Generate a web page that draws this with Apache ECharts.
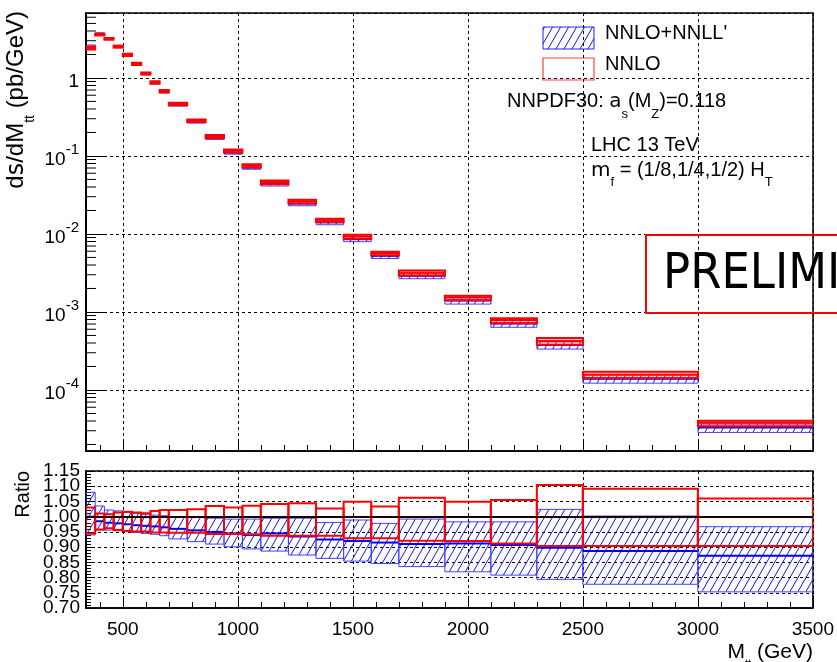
<!DOCTYPE html>
<html>
<head>
<meta charset="utf-8">
<script src="https://cdn.jsdelivr.net/npm/echarts@6/dist/echarts.min.js"></script>
<style>
html,body{margin:0;padding:0;background:#fff;}
#chart{width:837px;height:662px;}
</style>
</head>
<body>
<div id="chart"></div>
<script>
// ---------------- data ----------------
const binEdges = [340,380,420,460,500,540,580,620,660,700,780,860,940,1020,1100,1220,1340,1460,1580,1700,1900,2100,2300,2500,3000,3500];
// NNLO central prediction dsigma/dMtt (pb/GeV)
const nnloCentral = [2.45,3.66,3.22,2.56,2.01,1.54,1.16,0.889,0.686,0.470,0.287,0.179,0.117,0.0755,0.0464,0.0263,0.0152,0.00931,0.00573,0.00319,0.00154,0.000787,0.000421,0.000157,0.0000379];
// NNLO scale band, ratio to NNLO central
const nnloRatioLo = [0.945,0.958,0.962,0.956,0.953,0.951,0.951,0.948,0.948,0.947,0.947,0.943,0.943,0.942,0.9375,0.9375,0.9375,0.929,0.929,0.921,0.920,0.912,0.904,0.904,0.904];
const nnloRatioHi = [1.030,1.010,1.008,1.014,1.016,1.014,1.011,1.019,1.022,1.022,1.024,1.035,1.030,1.036,1.042,1.044,1.027,1.049,1.033,1.062,1.049,1.055,1.104,1.092,1.060];
// NNLO+NNLL' band, ratio to NNLO central
const resumRatioLo = [0.940,0.956,0.956,0.954,0.951,0.948,0.945,0.942,0.9375,0.927,0.918,0.910,0.901,0.894,0.887,0.874,0.863,0.854,0.846,0.836,0.819,0.808,0.794,0.778,0.753];
const resumRatioMid = [1.000,0.985,0.980,0.978,0.975,0.972,0.970,0.968,0.965,0.960,0.955,0.950,0.945,0.940,0.945,0.935,0.925,0.920,0.915,0.910,0.912,0.907,0.898,0.887,0.872];
const resumRatioHi = [1.080,1.035,1.022,1.019,1.014,1.011,1.008,1.005,1.003,1.000,0.997,0.995,0.992,0.992,0.995,0.995,0.981,0.989,0.978,0.992,0.983,0.983,1.024,1.002,0.967];
// axes
const xMin = 340, xMax = 3500;
const yTopMin = 1.65e-5, yTopMax = 6.8;
const ratioMin = 0.70, ratioMax = 1.15, ratioStep = 0.05;
const logDecades = [-5,-4,-3,-2,-1,0];
const logMantissas = [2,3,4,5,6,7,8,9];
const legendLabels = ["NNLO+NNLL'", "NNLO"];

// ---------------- helpers ----------------
const FONT = "'Liberation Sans', Arial, Helvetica, sans-serif";
function makeHatch() {
  const c = document.createElement('canvas');
  c.width = 8; c.height = 14;
  const g = c.getContext('2d');
  g.strokeStyle = '#1010ff'; g.lineWidth = 1;
  g.beginPath();
  g.moveTo(0, 14); g.lineTo(8, 0);
  g.moveTo(-8, 14); g.lineTo(0, 0);
  g.moveTo(8, 14); g.lineTo(16, 0);
  g.stroke();
  return c;
}
const hatchCanvas = makeHatch();
const hatch = () => ({ image: hatchCanvas, repeat: 'repeat' });

const topRows = [], ratioRows = [];
for (let i = 0; i < nnloCentral.length; i++) {
  const c = nnloCentral[i];
  topRows.push([binEdges[i], binEdges[i+1], c*resumRatioLo[i], c*resumRatioMid[i], c*resumRatioHi[i], c*nnloRatioLo[i], c, c*nnloRatioHi[i]]);
  ratioRows.push([binEdges[i], binEdges[i+1], resumRatioLo[i], resumRatioMid[i], resumRatioHi[i], nnloRatioLo[i], 1, nnloRatioHi[i]]);
}
const minorVals = [];
logDecades.forEach(d => logMantissas.forEach(m => { const v = m*Math.pow(10,d); if (v > yTopMin && v < yTopMax) minorVals.push([xMin, v]); }));

function boxItem(redFill, drawRedMid) {
  return function(params, api) {
    const x0 = api.value(0), x1 = api.value(1);
    const bl = api.coord([x0, api.value(2)]), bm = api.coord([x0, api.value(3)]), bh = api.coord([x1, api.value(4)]);
    const bm1 = api.coord([x1, api.value(3)]);
    const rl = api.coord([x0, api.value(5)]), rm = api.coord([x0, api.value(6)]), rh = api.coord([x1, api.value(7)]);
    const children = [
      {type:'rect', shape:{x:bl[0], y:bh[1], width:bh[0]-bl[0], height:bl[1]-bh[1]},
       style:{fill:hatch(), stroke:'#4040ff', lineWidth:1}},
      {type:'line', shape:{x1:bm[0], y1:bm[1], x2:bm1[0], y2:bm1[1]}, style:{stroke:'#0000ff', lineWidth:2}},
      {type:'rect', shape:{x:rl[0], y:rh[1], width:rh[0]-rl[0], height:rl[1]-rh[1]},
       style:{fill:redFill, stroke:'#ff0000', lineWidth:2}}
    ];
    if (drawRedMid) children.push({type:'line', shape:{x1:rm[0], y1:rm[1], x2:rh[0], y2:rm[1]}, style:{stroke:'#ff0000', lineWidth:2}});
    return {type:'group', children};
  };
}

const gridLine = {show:true, lineStyle:{type:[3,3], color:'#000', width:1}};
function xAxisCfg(gi, labels) {
  return {
    gridIndex: gi, type:'value', min:xMin, max:xMax,
    axisLine:{show:true, onZero:false, lineStyle:{color:'#000', width:1.5}},
    axisTick:{show:true, inside:true, length:12, lineStyle:{color:'#000', width:1}},
    minorTick:{show:true, splitNumber:5, length:6, lineStyle:{color:'#000', width:1}},
    axisLabel:{show:labels, margin:12, fontSize:19, fontFamily:FONT, color:'#000',
      formatter: v => (v % 500 === 0 ? String(v) : '')},
    splitLine: gridLine, minorSplitLine:{show:false}
  };
}

const logLabel = function(v) {
  const e = Math.log10(v), r = Math.round(e);
  if (Math.abs(e - r) > 1e-6) return '';
  if (r === 0) return '{b|1}';
  return '{b|10}{p|-' + Math.abs(r) + '}';
};
const isEnd = v => Math.abs(v - ratioMin) < 1e-6 || Math.abs(v - ratioMax) < 1e-6;

const rich = (o) => Object.assign({fontFamily:FONT, color:'#000'}, o);
function annot(x, y, text, richStyles, extra) {
  return Object.assign({type:'text', x:x, y:y, silent:true, style:{text:text, align:'left', verticalAlign:'top', rich:richStyles}}, extra||{});
}
const annRich = {
  n: rich({fontSize:20, lineHeight:20, padding:[0,0,9,0]}),
  g: rich({fontSize:20, lineHeight:20, padding:[0,0,9,0], fontFamily:"'DejaVu Sans', sans-serif", color:'#333'}),
  sub: rich({fontSize:13, lineHeight:13, padding:[16,0,0,0]})
};

const option = {
  animation:false,
  grid:[
    {left:86, top:13, width:727, height:438, show:true, borderColor:'#000', borderWidth:1.5},
    {left:86, top:471, width:727, height:137, show:true, borderColor:'#000', borderWidth:1.5}
  ],
  xAxis:[xAxisCfg(0,false), xAxisCfg(1,true)],
  yAxis:[
    {gridIndex:0, type:'log', logBase:10, min:yTopMin, max:yTopMax,
     axisLine:{show:true, lineStyle:{color:'#000', width:2}},
     axisTick:{show:true, inside:true, length:20, lineStyle:{color:'#000'}},
     axisLabel:{show:true, margin:7, formatter:logLabel, rich:{
       b: rich({fontSize:19, lineHeight:19, padding:[8,0,0,0]}),
       p: rich({fontSize:15, lineHeight:15, padding:[0,0,12,0]})
     }},
     splitLine:gridLine, minorTick:{show:false}},
    {gridIndex:1, type:'value', position:'left', min:ratioMin, max:ratioMax, interval:ratioStep,
     axisLine:{show:true, lineStyle:{color:'#000', width:2}},
     axisTick:{show:true, inside:true, length:9, lineStyle:{color:'#000'}},
     minorTick:{show:true, splitNumber:5, length:5, lineStyle:{color:'#000'}},
     axisLabel:{show:true, margin:6, fontSize:19, fontFamily:FONT, color:'#000', showMinLabel:false, showMaxLabel:false,
       formatter: v => (isEnd(v) ? '' : v.toFixed(2))},
     splitLine:gridLine},
    {gridIndex:1, type:'value', position:'left', offset:0, min:ratioMin, max:ratioMax, interval:ratioStep,
     axisLine:{show:false}, axisTick:{show:false}, minorTick:{show:false}, splitLine:{show:false},
     axisLabel:{show:true, margin:6, fontSize:19, fontFamily:FONT, color:'#000', showMinLabel:true, showMaxLabel:true,
       formatter: v => (isEnd(v) ? v.toFixed(2) : '')}}
  ],
  series:[
    {type:'custom', name:'top', xAxisIndex:0, yAxisIndex:0, silent:true, clip:true,
     encode:{x:[0,1], y:[2,3,4,5,6,7]}, data:topRows, renderItem:boxItem('rgba(255,60,60,0.25)', true)},
    {type:'custom', name:'logMinor', xAxisIndex:0, yAxisIndex:0, silent:true,
     encode:{x:0, y:1}, data:minorVals,
     renderItem:function(params, api){ const p = api.coord([api.value(0), api.value(1)]);
       return {type:'line', shape:{x1:p[0], y1:p[1], x2:p[0]+10, y2:p[1]}, style:{stroke:'#000', lineWidth:1}}; }},
    {type:'custom', name:'ratio', xAxisIndex:1, yAxisIndex:1, silent:true, clip:true,
     encode:{x:[0,1], y:[2,3,4,5,6,7]}, data:ratioRows, renderItem:boxItem('none', false),
     markLine:{silent:true, symbol:'none', label:{show:false}, lineStyle:{color:'#1a0000', width:2, type:'solid'},
       data:[{yAxis:1}]}}
  ],
  graphic:[
    // legend
    {type:'rect', shape:{x:543, y:27, width:51, height:22}, style:{fill:hatch(), stroke:'#2020ff', lineWidth:1}, silent:true},
    {type:'rect', shape:{x:543, y:58, width:51, height:22}, style:{fill:'none', stroke:'#ff4040', lineWidth:1.2}, silent:true},
    annot(605, 27.5, '{n|' + legendLabels[0] + '}', annRich),
    annot(605, 58.5, '{n|' + legendLabels[1] + '}', annRich),
    annot(507, 96.4, '{n|NNPDF30: }{g|a}{sub|s}{n|(M}{sub|Z}{n|)=0.118}', annRich),
    annot(591, 139.8, '{n|LHC 13 TeV}', annRich),
    annot(591, 164.8, '{g|m}{sub|f}{n| = (1/8,1/4,1/2) H}{sub|T}', annRich),
    // preliminary box
    {type:'rect', shape:{x:646, y:235, width:220, height:78}, style:{fill:'none', stroke:'#ff0000', lineWidth:2}, silent:true, z:10},
    {type:'text', x:663, y:275, scaleX:0.9, silent:true, z:10,
     style:{text:'PRELIMINARY', fontSize:50, fontFamily:"'DejaVu Sans', sans-serif", fill:'#000', align:'left', verticalAlign:'middle'}},
    // axis titles
    {type:'text', x:21, y:11, rotation:Math.PI/2, silent:true,
     style:{text:'{n|d}{g|s}{n|/dM}{sub|tt}{n| (pb/GeV)}', align:'right', verticalAlign:'middle', rich:{
       n: rich({fontSize:24, lineHeight:24, padding:[0,0,9,0]}),
       g: rich({fontSize:24, lineHeight:24, padding:[0,0,9,0], fontFamily:"'DejaVu Sans', sans-serif", color:'#333'}),
       sub: rich({fontSize:14, lineHeight:14, padding:[19,0,0,0]})}}},
    {type:'text', x:23, y:471, rotation:Math.PI/2, silent:true,
     style:{text:'Ratio', fontSize:20, fontFamily:FONT, fill:'#000', align:'right', verticalAlign:'middle'}},
    {type:'text', x:813, y:645, silent:true,
     style:{text:'{n|M}{sub|tt}{n| (GeV)}', align:'right', verticalAlign:'top', rich:{
       n: rich({fontSize:21, lineHeight:21, padding:[0,0,6,0]}),
       sub: rich({fontSize:11, lineHeight:11, padding:[16,0,0,0]})}}}
  ]
};
const chart = echarts.init(document.getElementById('chart'), null, {renderer:'canvas'});
chart.setOption(option);
</script>
</body>
</html>
